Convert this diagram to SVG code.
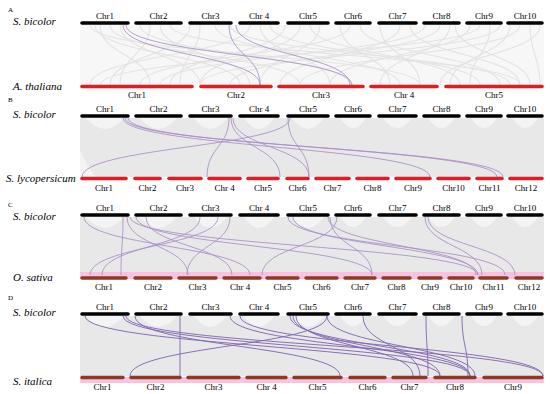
<svg xmlns="http://www.w3.org/2000/svg" xmlns:xlink="http://www.w3.org/1999/xlink" width="550" height="394" viewBox="0 0 550 394">
<style>
.tb{stroke:#000;stroke-width:3.6;stroke-linecap:round}
.rb{stroke:#e31b23;stroke-width:3.6;stroke-linecap:round}
.bb{stroke:#8e3a22;stroke-width:3.4;stroke-linecap:round}
.lbl{font-family:"Liberation Serif","Times New Roman",serif;font-size:9px;text-anchor:middle;fill:#000}
.sp{font-family:"Liberation Serif","Times New Roman",serif;font-style:italic;font-size:11px;fill:#000}
.pl{font-family:"Liberation Serif","Times New Roman",serif;font-size:7px;fill:#000}
.gl{fill:none;stroke:#e3e3e3;stroke-width:1.1}
.bg{fill:#e8e8e8}
.w{fill:#fff;opacity:.5}
.pk{fill:#f8c2e0}
.p{fill:none;stroke:#a98ec6;stroke-width:.85}
.pd{fill:none;stroke:#8468b2;stroke-width:.95}
</style>
<defs>
<g id="arches">
<path class="w" d="M86 0Q105 22 124 0Z"/><path class="w" d="M140 0Q158 22 177 0Z"/><path class="w" d="M194 0Q210 22 227 0Z"/><path class="w" d="M244 0Q259 22 274 0Z"/><path class="w" d="M292 0Q308 22 324 0Z"/><path class="w" d="M340 0Q353 20 366 0Z"/><path class="w" d="M383 0Q397 20 412 0Z"/><path class="w" d="M428 0Q441 20 455 0Z"/><path class="w" d="M471 0Q484 20 497 0Z"/><path class="w" d="M512 0Q525 20 538 0Z"/>
</g>
</defs>
<rect width="550" height="394" fill="#fff"/>

<!-- Panel A -->
<g id="panelA">
<text class="pl" x="8" y="12">A</text>
<text class="sp" x="13" y="25">S. bicolor</text>
<text class="sp" x="13" y="90">A. thaliana</text>
<rect x="80" y="25" width="464" height="60" fill="#f7f7f7"/>
<g id="A-background-links">
<path class="gl" d="M100 25C100 55 150 55 150 85"/><path class="gl" d="M110 25C110 55 300 55 300 85"/><path class="gl" d="M150 25C150 55 120 55 120 85"/><path class="gl" d="M160 25C160 55 250 55 250 85"/><path class="gl" d="M200 25C200 55 180 55 180 85"/><path class="gl" d="M215 25C215 55 400 55 400 85"/><path class="gl" d="M250 25C250 55 90 55 90 85"/><path class="gl" d="M260 25C260 55 330 55 330 85"/><path class="gl" d="M300 25C300 55 200 55 200 85"/><path class="gl" d="M310 25C310 55 460 55 460 85"/><path class="gl" d="M350 25C350 55 140 55 140 85"/><path class="gl" d="M360 25C360 55 500 55 500 85"/><path class="gl" d="M400 25C400 55 280 55 280 85"/><path class="gl" d="M410 25C410 55 520 55 520 85"/><path class="gl" d="M440 25C440 55 230 55 230 85"/><path class="gl" d="M450 25C450 55 380 55 380 85"/><path class="gl" d="M480 25C480 55 100 55 100 85"/><path class="gl" d="M490 25C490 55 470 55 470 85"/><path class="gl" d="M520 25C520 55 300 55 300 85"/><path class="gl" d="M530 25C530 55 540 55 540 85"/><path class="gl" d="M90 25C90 55 420 55 420 85"/><path class="gl" d="M170 25C170 55 520 55 520 85"/><path class="gl" d="M270 25C270 55 480 55 480 85"/><path class="gl" d="M320 25C320 55 260 55 260 85"/><path class="gl" d="M380 25C380 55 420 55 420 85"/><path class="gl" d="M470 25C470 55 330 55 330 85"/><path class="gl" d="M500 25C500 55 200 55 200 85"/><path class="gl" d="M140 25C140 55 350 55 350 85"/><path class="gl" d="M120 25C120 55 200 55 200 85"/><path class="gl" d="M425 25C425 55 160 55 160 85"/><path class="gl" d="M540 25C540 55 440 55 440 85"/><path class="gl" d="M230 25C230 55 510 55 510 85"/><path class="gl" d="M95 25C95 55 240 55 240 85"/><path class="gl" d="M190 25C190 55 110 55 110 85"/><path class="gl" d="M340 25C340 55 390 55 390 85"/><path class="gl" d="M455 25C455 55 530 55 530 85"/><path class="gl" d="M510 25C510 55 450 55 450 85"/><path class="gl" d="M285 25C285 55 170 55 170 85"/>
</g>
<g id="A-links">
<path class="p" d="M123 25C123 55 260 55 260 85"/>
<path class="p" d="M126 25C126 55 352 55 352 85"/>
<path class="p" d="M229 25C229 55 260 55 260 85"/>
<path class="p" d="M236 25C236 55 350 55 350 85"/>
</g>
<g id="A-Sb-Chr1"><line class="tb" x1="82" y1="23" x2="128" y2="23"/><text class="lbl" x="105" y="19">Chr1</text></g>
<g id="A-Sb-Chr2"><line class="tb" x1="136" y1="23" x2="181" y2="23"/><text class="lbl" x="158.5" y="19">Chr2</text></g>
<g id="A-Sb-Chr3"><line class="tb" x1="190" y1="23" x2="231" y2="23"/><text class="lbl" x="210.5" y="19">Chr3</text></g>
<g id="A-Sb-Chr4"><line class="tb" x1="240" y1="23" x2="278" y2="23"/><text class="lbl" x="259" y="19">Chr 4</text></g>
<g id="A-Sb-Chr5"><line class="tb" x1="288" y1="23" x2="328" y2="23"/><text class="lbl" x="308" y="19">Chr5</text></g>
<g id="A-Sb-Chr6"><line class="tb" x1="336" y1="23" x2="370" y2="23"/><text class="lbl" x="353" y="19">Chr6</text></g>
<g id="A-Sb-Chr7"><line class="tb" x1="379" y1="23" x2="416" y2="23"/><text class="lbl" x="397.5" y="19">Chr7</text></g>
<g id="A-Sb-Chr8"><line class="tb" x1="424" y1="23" x2="459" y2="23"/><text class="lbl" x="441.5" y="19">Chr8</text></g>
<g id="A-Sb-Chr9"><line class="tb" x1="467" y1="23" x2="501" y2="23"/><text class="lbl" x="484" y="19">Chr9</text></g>
<g id="A-Sb-Chr10"><line class="tb" x1="508" y1="23" x2="542" y2="23"/><text class="lbl" x="525" y="19">Chr10</text></g>
<g id="A-At-Chr1"><line class="rb" x1="82" y1="86.5" x2="192" y2="86.5"/><text class="lbl" x="137" y="97.5">Chr1</text></g>
<g id="A-At-Chr2"><line class="rb" x1="201" y1="86.5" x2="271" y2="86.5"/><text class="lbl" x="236" y="97.5">Chr2</text></g>
<g id="A-At-Chr3"><line class="rb" x1="279" y1="86.5" x2="363" y2="86.5"/><text class="lbl" x="321" y="97.5">Chr3</text></g>
<g id="A-At-Chr4"><line class="rb" x1="371" y1="86.5" x2="437" y2="86.5"/><text class="lbl" x="404" y="97.5">Chr 4</text></g>
<g id="A-At-Chr5"><line class="rb" x1="446" y1="86.5" x2="542" y2="86.5"/><text class="lbl" x="494" y="97.5">Chr5</text></g>
</g>

<!-- Panel B -->
<g id="panelB">
<text class="pl" x="8" y="102">B</text>
<text class="sp" x="13" y="118">S. bicolor</text>
<text class="sp" x="6" y="181.5">S. lycopersicum</text>
<rect class="bg" x="80" y="118" width="464" height="59"/>
<use xlink:href="#arches" transform="translate(0,118)"/>
<path class="w" d="M80 150Q88 168 96 177L80 177Z"/>
<g id="B-links">
<path class="p" d="M123 118C123 147 430 147 430 177"/>
<path class="p" d="M125 118C125 147 503 147 503 177"/>
<path class="p" d="M128 118C128 147 497 147 497 177"/>
<path class="p" d="M229 118C229 147 207 147 207 177"/>
<path class="p" d="M231 118C231 147 280 147 280 177"/>
<path class="p" d="M233 118C233 147 309 147 309 177"/>
<path class="p" d="M82 177C82 147 290 147 290 118"/>
<path class="p" d="M309 177C309 147 288 147 288 118"/>
</g>
<g id="B-Sb-Chr1"><line class="tb" x1="82" y1="116" x2="128" y2="116"/><text class="lbl" x="105" y="112">Chr1</text></g>
<g id="B-Sb-Chr2"><line class="tb" x1="136" y1="116" x2="181" y2="116"/><text class="lbl" x="158.5" y="112">Chr2</text></g>
<g id="B-Sb-Chr3"><line class="tb" x1="190" y1="116" x2="231" y2="116"/><text class="lbl" x="210.5" y="112">Chr3</text></g>
<g id="B-Sb-Chr4"><line class="tb" x1="240" y1="116" x2="278" y2="116"/><text class="lbl" x="259" y="112">Chr 4</text></g>
<g id="B-Sb-Chr5"><line class="tb" x1="288" y1="116" x2="328" y2="116"/><text class="lbl" x="308" y="112">Chr5</text></g>
<g id="B-Sb-Chr6"><line class="tb" x1="336" y1="116" x2="370" y2="116"/><text class="lbl" x="353" y="112">Chr6</text></g>
<g id="B-Sb-Chr7"><line class="tb" x1="379" y1="116" x2="416" y2="116"/><text class="lbl" x="397.5" y="112">Chr7</text></g>
<g id="B-Sb-Chr8"><line class="tb" x1="424" y1="116" x2="459" y2="116"/><text class="lbl" x="441.5" y="112">Chr8</text></g>
<g id="B-Sb-Chr9"><line class="tb" x1="467" y1="116" x2="501" y2="116"/><text class="lbl" x="484" y="112">Chr9</text></g>
<g id="B-Sb-Chr10"><line class="tb" x1="508" y1="116" x2="542" y2="116"/><text class="lbl" x="525" y="112">Chr10</text></g>
<g id="B-Sl-Chr1"><line class="rb" x1="82" y1="178.5" x2="126" y2="178.5"/><text class="lbl" x="104" y="191">Chr1</text></g>
<g id="B-Sl-Chr2"><line class="rb" x1="135" y1="178.5" x2="160" y2="178.5"/><text class="lbl" x="147.5" y="191">Chr2</text></g>
<g id="B-Sl-Chr3"><line class="rb" x1="169" y1="178.5" x2="201" y2="178.5"/><text class="lbl" x="185" y="191">Chr3</text></g>
<g id="B-Sl-Chr4"><line class="rb" x1="209" y1="178.5" x2="240" y2="178.5"/><text class="lbl" x="224.5" y="191">Chr 4</text></g>
<g id="B-Sl-Chr5"><line class="rb" x1="248" y1="178.5" x2="278" y2="178.5"/><text class="lbl" x="263" y="191">Chr5</text></g>
<g id="B-Sl-Chr6"><line class="rb" x1="287" y1="178.5" x2="308" y2="178.5"/><text class="lbl" x="297.5" y="191">Chr6</text></g>
<g id="B-Sl-Chr7"><line class="rb" x1="316" y1="178.5" x2="349" y2="178.5"/><text class="lbl" x="332.5" y="191">Chr7</text></g>
<g id="B-Sl-Chr8"><line class="rb" x1="357" y1="178.5" x2="388" y2="178.5"/><text class="lbl" x="372.5" y="191">Chr8</text></g>
<g id="B-Sl-Chr9"><line class="rb" x1="396" y1="178.5" x2="430" y2="178.5"/><text class="lbl" x="413" y="191">Chr9</text></g>
<g id="B-Sl-Chr10"><line class="rb" x1="438" y1="178.5" x2="469" y2="178.5"/><text class="lbl" x="453.5" y="191">Chr10</text></g>
<g id="B-Sl-Chr11"><line class="rb" x1="477" y1="178.5" x2="502" y2="178.5"/><text class="lbl" x="489.5" y="191">Chr11</text></g>
<g id="B-Sl-Chr12"><line class="rb" x1="510" y1="178.5" x2="542" y2="178.5"/><text class="lbl" x="526" y="191">Chr12</text></g>
</g>

<!-- Panel C -->
<g id="panelC">
<text class="pl" x="8" y="207">C</text>
<text class="sp" x="13" y="220">S. bicolor</text>
<text class="sp" x="13" y="281">O. sativa</text>
<rect class="bg" x="80" y="217" width="464" height="56"/>
<use xlink:href="#arches" transform="translate(0,217)"/>
<rect class="pk" x="80" y="272" width="464" height="7"/>
<g id="C-links">
<path class="p" d="M123 217C123 246 121 246 121 275"/>
<path class="p" d="M127 217C127 246 188 246 188 275"/>
<path class="p" d="M84 217C84 246 250 246 250 275"/>
<path class="p" d="M130 217C130 246 478 246 478 275"/>
<path class="p" d="M136 217C136 246 372 246 372 275"/>
<path class="p" d="M218 217C218 246 90 246 90 275"/>
<path class="p" d="M200 217C200 246 102 246 102 275"/>
<path class="p" d="M230 217C230 246 187 246 187 275"/>
<path class="p" d="M146 217C146 246 232 246 232 275"/>
<path class="p" d="M337 217C337 246 262 246 262 275"/>
<path class="p" d="M288 217C288 246 505 246 505 275"/>
<path class="p" d="M293 217C293 246 478 246 478 275"/>
<path class="p" d="M328 217C328 246 476 246 476 275"/>
<path class="p" d="M425 217C425 246 482 246 482 275"/>
<path class="p" d="M428 217C428 246 515 246 515 275"/>
<path class="p" d="M330 217C330 246 372 246 372 275"/>
</g>
<g id="C-Sb-Chr1"><line class="tb" x1="82" y1="215" x2="128" y2="215"/><text class="lbl" x="105" y="211">Chr1</text></g>
<g id="C-Sb-Chr2"><line class="tb" x1="136" y1="215" x2="181" y2="215"/><text class="lbl" x="158.5" y="211">Chr2</text></g>
<g id="C-Sb-Chr3"><line class="tb" x1="190" y1="215" x2="231" y2="215"/><text class="lbl" x="210.5" y="211">Chr3</text></g>
<g id="C-Sb-Chr4"><line class="tb" x1="240" y1="215" x2="278" y2="215"/><text class="lbl" x="259" y="211">Chr 4</text></g>
<g id="C-Sb-Chr5"><line class="tb" x1="288" y1="215" x2="328" y2="215"/><text class="lbl" x="308" y="211">Chr5</text></g>
<g id="C-Sb-Chr6"><line class="tb" x1="336" y1="215" x2="370" y2="215"/><text class="lbl" x="353" y="211">Chr6</text></g>
<g id="C-Sb-Chr7"><line class="tb" x1="379" y1="215" x2="416" y2="215"/><text class="lbl" x="397.5" y="211">Chr7</text></g>
<g id="C-Sb-Chr8"><line class="tb" x1="424" y1="215" x2="459" y2="215"/><text class="lbl" x="441.5" y="211">Chr8</text></g>
<g id="C-Sb-Chr9"><line class="tb" x1="467" y1="215" x2="501" y2="215"/><text class="lbl" x="484" y="211">Chr9</text></g>
<g id="C-Sb-Chr10"><line class="tb" x1="508" y1="215" x2="542" y2="215"/><text class="lbl" x="525" y="211">Chr10</text></g>
<g id="C-Os-Chr1"><line class="bb" x1="82" y1="278" x2="126" y2="278"/><text class="lbl" x="104" y="290">Chr1</text></g>
<g id="C-Os-Chr2"><line class="bb" x1="135" y1="278" x2="171" y2="278"/><text class="lbl" x="153" y="290">Chr2</text></g>
<g id="C-Os-Chr3"><line class="bb" x1="179" y1="278" x2="216" y2="278"/><text class="lbl" x="197.5" y="290">Chr3</text></g>
<g id="C-Os-Chr4"><line class="bb" x1="224" y1="278" x2="260" y2="278"/><text class="lbl" x="240" y="290">Chr 4</text></g>
<g id="C-Os-Chr5"><line class="bb" x1="267" y1="278" x2="298" y2="278"/><text class="lbl" x="282.5" y="290">Chr5</text></g>
<g id="C-Os-Chr6"><line class="bb" x1="306" y1="278" x2="337" y2="278"/><text class="lbl" x="321.5" y="290">Chr6</text></g>
<g id="C-Os-Chr7"><line class="bb" x1="345" y1="278" x2="375" y2="278"/><text class="lbl" x="360" y="290">Chr7</text></g>
<g id="C-Os-Chr8"><line class="bb" x1="383" y1="278" x2="410" y2="278"/><text class="lbl" x="396.5" y="290">Chr8</text></g>
<g id="C-Os-Chr9"><line class="bb" x1="419" y1="278" x2="441" y2="278"/><text class="lbl" x="430" y="290">Chr9</text></g>
<g id="C-Os-Chr10"><line class="bb" x1="449" y1="278" x2="473" y2="278"/><text class="lbl" x="461" y="290">Chr10</text></g>
<g id="C-Os-Chr11"><line class="bb" x1="480" y1="278" x2="507" y2="278"/><text class="lbl" x="493.5" y="290">Chr11</text></g>
<g id="C-Os-Chr12"><line class="bb" x1="516" y1="278" x2="542" y2="278"/><text class="lbl" x="529" y="290">Chr12</text></g>
</g>

<!-- Panel D -->
<g id="panelD">
<text class="pl" x="8" y="300">D</text>
<text class="sp" x="13" y="316">S. bicolor</text>
<text class="sp" x="13" y="385">S. italica</text>
<rect class="bg" x="80" y="316" width="464" height="60"/>
<use xlink:href="#arches" transform="translate(0,316)"/>
<rect class="pk" x="80" y="377" width="464" height="6"/>
<g id="D-links">
<path class="pd" d="M180 316C180 346 180 346 180 376"/>
<path class="pd" d="M123 316C123 346 470 346 470 376"/>
<path class="pd" d="M126 316C126 346 543 346 543 376"/>
<path class="pd" d="M85 316C85 346 440 346 440 376"/>
<path class="pd" d="M130 376C130 346 327 346 327 316"/>
<path class="pd" d="M230 316C230 346 470 346 470 376"/>
<path class="pd" d="M290 316C290 346 470 346 470 376"/>
<path class="pd" d="M293 316C293 346 440 346 440 376"/>
<path class="pd" d="M296 316C296 346 413 346 413 376"/>
<path class="pd" d="M327 316C327 346 475 346 475 376"/>
<path class="pd" d="M426 316C426 346 428 346 428 376"/>
<path class="pd" d="M462 316C462 346 468 346 468 376"/>
<path class="pd" d="M363 316C363 346 420 346 420 376"/>
<path class="pd" d="M135 316C135 346 340 346 340 376"/>
<path class="pd" d="M240 316C240 346 543 346 543 376"/>
</g>
<g id="D-Sb-Chr1"><line class="tb" x1="82" y1="314" x2="128" y2="314"/><text class="lbl" x="105" y="310">Chr1</text></g>
<g id="D-Sb-Chr2"><line class="tb" x1="136" y1="314" x2="181" y2="314"/><text class="lbl" x="158.5" y="310">Chr2</text></g>
<g id="D-Sb-Chr3"><line class="tb" x1="190" y1="314" x2="231" y2="314"/><text class="lbl" x="210.5" y="310">Chr3</text></g>
<g id="D-Sb-Chr4"><line class="tb" x1="240" y1="314" x2="278" y2="314"/><text class="lbl" x="259" y="310">Chr 4</text></g>
<g id="D-Sb-Chr5"><line class="tb" x1="288" y1="314" x2="328" y2="314"/><text class="lbl" x="308" y="310">Chr5</text></g>
<g id="D-Sb-Chr6"><line class="tb" x1="336" y1="314" x2="370" y2="314"/><text class="lbl" x="353" y="310">Chr6</text></g>
<g id="D-Sb-Chr7"><line class="tb" x1="379" y1="314" x2="416" y2="314"/><text class="lbl" x="397.5" y="310">Chr7</text></g>
<g id="D-Sb-Chr8"><line class="tb" x1="424" y1="314" x2="459" y2="314"/><text class="lbl" x="441.5" y="310">Chr8</text></g>
<g id="D-Sb-Chr9"><line class="tb" x1="467" y1="314" x2="501" y2="314"/><text class="lbl" x="484" y="310">Chr9</text></g>
<g id="D-Sb-Chr10"><line class="tb" x1="508" y1="314" x2="542" y2="314"/><text class="lbl" x="525" y="310">Chr10</text></g>
<g id="D-Si-Chr1"><line class="bb" x1="82" y1="377.5" x2="123" y2="377.5"/><text class="lbl" x="102.5" y="390">Chr1</text></g>
<g id="D-Si-Chr2"><line class="bb" x1="131" y1="377.5" x2="180" y2="377.5"/><text class="lbl" x="155.5" y="390">Chr2</text></g>
<g id="D-Si-Chr3"><line class="bb" x1="188" y1="377.5" x2="239" y2="377.5"/><text class="lbl" x="213.5" y="390">Chr3</text></g>
<g id="D-Si-Chr4"><line class="bb" x1="247" y1="377.5" x2="286" y2="377.5"/><text class="lbl" x="266.5" y="390">Chr 4</text></g>
<g id="D-Si-Chr5"><line class="bb" x1="294" y1="377.5" x2="341" y2="377.5"/><text class="lbl" x="317.5" y="390">Chr5</text></g>
<g id="D-Si-Chr6"><line class="bb" x1="350" y1="377.5" x2="385" y2="377.5"/><text class="lbl" x="367.5" y="390">Chr6</text></g>
<g id="D-Si-Chr7"><line class="bb" x1="393" y1="377.5" x2="426" y2="377.5"/><text class="lbl" x="409.5" y="390">Chr7</text></g>
<g id="D-Si-Chr8"><line class="bb" x1="435" y1="377.5" x2="475" y2="377.5"/><text class="lbl" x="455" y="390">Chr8</text></g>
<g id="D-Si-Chr9"><line class="bb" x1="484" y1="377.5" x2="542" y2="377.5"/><text class="lbl" x="513" y="390">Chr9</text></g>
</g>
</svg>
